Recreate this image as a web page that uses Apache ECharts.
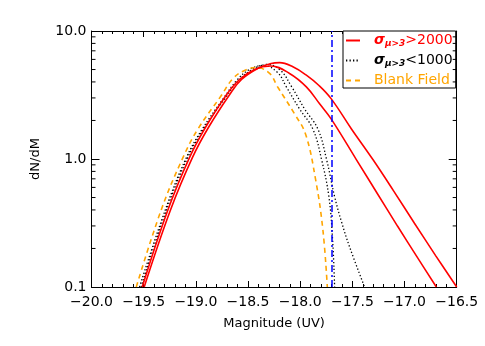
<!DOCTYPE html>
<html><head><meta charset="utf-8">
<script src="https://cdn.jsdelivr.net/npm/echarts@6/dist/echarts.min.js"></script>
<style>html,body{margin:0;padding:0;background:#fff}#c{width:485px;height:346px}</style>
</head><body><div id="c"></div>
<script>
const X_MIN = -20.0, X_MAX = -16.5, X_STEP = 0.5;
const Y_MIN = 0.1, Y_MAX = 10;
const yMinorTicks = [0.2,0.3,0.4,0.5,0.6,0.7,0.8,0.9,2,3,4,5,6,7,8,9];
const cutoffMag = -17.7;
const legendNames = ['σ>2000', 'σ<1000', 'Blank Field'];

const redBroad = [[-19.495,0.1],[-19.243,0.40],[-19.032,1.03],[-18.878,1.77],[-18.677,3.18],[-18.562,4.18],[-18.389,5.19],[-18.29,5.54],[-18.197,5.66],[-18.07,5.25],[-17.941,4.52],[-17.82,3.75],[-17.702,2.95],[-17.507,1.71],[-17.303,0.99],[-17.105,0.564],[-16.905,0.315],[-16.702,0.176],[-16.5,0.1]];
const redNarrow = [[-19.514,0.1],[-19.268,0.40],[-19.060,1.03],[-18.907,1.77],[-18.706,3.18],[-18.581,4.18],[-18.437,5.01],[-18.284,5.33],[-18.102,4.66],[-17.941,3.66],[-17.814,2.70],[-17.702,2.05],[-17.462,0.99],[-17.258,0.533],[-17.066,0.298],[-16.874,0.169],[-16.695,0.1]];
const blackNarrow = [[-19.540,0.1],[-19.293,0.40],[-19.092,1.02],[-18.939,1.71],[-18.725,3.06],[-18.610,4.10],[-18.485,5.01],[-18.351,5.38],[-18.217,4.74],[-18.133,3.66],[-18.006,2.46],[-17.878,1.71],[-17.795,0.99],[-17.725,0.508],[-17.689,0.231],[-17.670,0.1]];
const blackBroad = [[-19.525,0.1],[-19.281,0.40],[-19.080,1.02],[-18.926,1.71],[-18.710,3.06],[-18.591,4.10],[-18.456,5.01],[-18.313,5.48],[-18.188,4.92],[-18.082,3.67],[-17.958,2.46],[-17.830,1.71],[-17.747,0.99],[-17.670,0.508],[-17.603,0.321],[-17.526,0.205],[-17.383,0.1]];
const blankField = [[-19.571,0.1],[-19.332,0.40],[-19.125,1.02],[-18.981,1.71],[-18.756,3.13],[-18.645,4.25],[-18.533,4.92],[-18.421,5.19],[-18.293,4.66],[-18.217,3.67],[-18.054,2.25],[-17.948,1.56],[-17.852,0.689],[-17.782,0.277],[-17.740,0.1]];

const FONT = 'DejaVu Sans';
const fmtX = v => v.toFixed(1).replace('-', '\u2212');
const fmtY = v => Number(v).toFixed(1);

const chart = echarts.init(document.getElementById('c'), null, {renderer:'canvas'});
const axisCommon = {
  axisLine: {show:true, onZero:false, lineStyle:{color:'#000', width:1}},
  splitLine: {show:false}
};
const lineCommon = {type:'line', smooth:0.4, showSymbol:false, symbol:'none'};
const option = {
  animation: false,
  backgroundColor: '#fff',
  grid: {left: 91.5, right: 28.3, top: 31, bottom: 59, containLabel: false},
  xAxis: [
    Object.assign({}, axisCommon, {
      type:'value', min:X_MIN, max:X_MAX, interval:X_STEP, position:'bottom',
      name:'Magnitude (UV)', nameLocation:'middle', nameGap:30,
      nameTextStyle:{fontFamily:FONT, fontSize:13, color:'#000'},
      axisTick:{show:true, inside:true, length:6, lineStyle:{color:'#000'}},
      minorTick:{show:true, splitNumber:5, length:3, lineStyle:{color:'#000'}},
      axisLabel:{fontFamily:FONT, fontSize:14, color:'#000', margin:8, formatter:fmtX}
    }),
    Object.assign({}, axisCommon, {
      type:'value', min:X_MIN, max:X_MAX, interval:X_STEP, position:'top',
      axisTick:{show:true, inside:true, length:6, lineStyle:{color:'#000'}},
      minorTick:{show:true, splitNumber:5, length:3, lineStyle:{color:'#000'}},
      axisLabel:{show:false}
    })
  ],
  yAxis: [
    Object.assign({}, axisCommon, {
      type:'log', logBase:10, min:Y_MIN, max:Y_MAX, position:'left',
      name:'dN/dM', nameLocation:'middle', nameGap:49,
      nameTextStyle:{fontFamily:FONT, fontSize:13, color:'#000'},
      axisTick:{show:true, inside:true, length:8, lineStyle:{color:'#000'}},
      axisLabel:{fontFamily:FONT, fontSize:14, color:'#000', margin:5, formatter:fmtY}
    }),
    Object.assign({}, axisCommon, {
      type:'log', logBase:10, min:Y_MIN, max:Y_MAX, position:'right',
      axisTick:{show:true, inside:true, length:8, lineStyle:{color:'#000'}},
      axisLabel:{show:false}
    })
  ],
  legend: {
    orient:'vertical', left:343, top:31,
    padding:[2,3,0,2], itemGap:5, itemWidth:14, itemHeight:10,
    borderColor:'#000', borderWidth:1, borderRadius:0, backgroundColor:'#fff',
    itemStyle:{opacity:0},
    data:[
      {name:legendNames[0], textStyle:{color:'#ff0000'}},
      {name:legendNames[1], textStyle:{color:'#000000'}},
      {name:legendNames[2], textStyle:{color:'#ffa500'}}
    ],
    formatter: function(name){
      if (name === legendNames[0]) return '{sp|}{s|σ}{sub|μ>3}{n|>2000}';
      if (name === legendNames[1]) return '{sp|}{s|σ}{sub|μ>3}{n|<1000}';
      return '{sp|}{n|Blank Field}';
    },
    textStyle:{
      fontFamily:FONT, fontSize:14, lineHeight:15,
      rich:{
        sp:{width:9},
        s:{fontFamily:FONT, fontSize:14, fontStyle:'italic', fontWeight:'bold'},
        sub:{fontFamily:FONT, fontSize:9, fontStyle:'italic', fontWeight:'bold', padding:[6,0,0,0]},
        n:{fontFamily:FONT, fontSize:14}
      }
    }
  },
  series: [
    Object.assign({}, lineCommon, {name:legendNames[0], data:redBroad,
     lineStyle:{color:'#ff0000', width:1.6}, itemStyle:{color:'#ff0000'}, z:3}),
    Object.assign({}, lineCommon, {name:legendNames[0], data:redNarrow,
     lineStyle:{color:'#ff0000', width:1.6}, itemStyle:{color:'#ff0000'}, z:3}),
    Object.assign({}, lineCommon, {name:legendNames[1], data:blackNarrow,
     lineStyle:{color:'#000', width:1.3, type:[1.3,2.2]}, itemStyle:{color:'#000'}, z:2}),
    Object.assign({}, lineCommon, {name:legendNames[1], data:blackBroad,
     lineStyle:{color:'#000', width:1.3, type:[1.3,2.2]}, itemStyle:{color:'#000'}, z:2}),
    Object.assign({}, lineCommon, {name:legendNames[2], data:blankField,
     lineStyle:{color:'#ffa500', width:1.6, type:[5,4]}, itemStyle:{color:'#ffa500'}, z:2}),
    {name:'cutoff', type:'line', data:[], symbol:'none',
     markLine:{silent:true, symbol:'none', label:{show:false},
       lineStyle:{color:'#0000ff', width:1.5, type:[7,3,2,3]},
       data:[{xAxis:cutoffMag}]}},
    {name:'yminor', type:'custom', silent:true, z:5,
     data: yMinorTicks.map(v => [X_MIN, v]),
     renderItem: function(params, api){
       const v = api.value(1);
       const l = api.coord([X_MIN, v]);
       const r = api.coord([X_MAX, v]);
       return {type:'group', children:[
         {type:'line', shape:{x1:l[0], y1:l[1], x2:l[0]+4, y2:l[1]}, style:{stroke:'#000', lineWidth:1}},
         {type:'line', shape:{x1:r[0]-4, y1:r[1], x2:r[0], y2:r[1]}, style:{stroke:'#000', lineWidth:1}}
       ]};
     }}
  ]
};
chart.setOption(option);
</script>
</body></html>
